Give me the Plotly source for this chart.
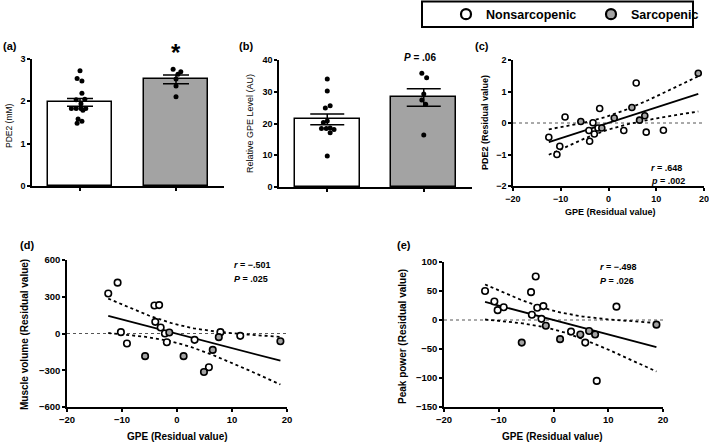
import numpy as np
import plotly.graph_objects as go

W, H = 709, 444
FONT = "Liberation Sans, Arial, sans-serif"
GRAY = "#a3a3a3"

# ---------------- data ----------------
group_pos = [0, 1]

pde2_mean = [1.975, 2.52]
pde2_sem = [0.09, 0.105]
pde2_non = [2.72, 2.54, 2.48, 2.19, 2.04, 2.05, 1.94, 1.83, 1.83, 1.83, 1.83, 1.79, 1.58, 1.53, 1.48]
pde2_non_jitter = [0.0, -0.03, 0.02, 0.02, -0.04, 0.05, 0.01, -0.09, -0.04, 0.01, 0.06, 0.03, -0.02, 0.02, -0.03]
pde2_sar = [2.76, 2.70, 2.64, 2.53, 2.36, 2.11]
pde2_sar_jitter = [-0.03, 0.05, 0.02, 0.0, 0.0, 0.0]

gpe_mean = [21.3, 28.2]
gpe_sem = [1.7, 2.75]
gpe_non = [34.0, 30.2, 25.6, 24.9, 20.8, 20.3, 18.6, 18.4, 18.4, 18.1, 17.1, 9.8]
gpe_non_jitter = [0.0, 0.0, 0.03, -0.02, 0.0, -0.04, 0.03, -0.06, -0.01, 0.07, 0.03, 0.0]
gpe_sar = [35.8, 34.4, 29.3, 27.4, 26.1, 16.4]
gpe_sar_jitter = [-0.02, 0.03, 0.0, -0.02, 0.02, 0.0]

gpe_res_non = [-12.5, -10.8, -10.2, -9.1, -4.1, -3.95, -3.25, -2.97, -2.2, -1.85, 3.2, 5.8, 7.9, 11.5]
gpe_res_sar = [-5.8, -1.4, 1.2, 4.9, 6.5, 7.6, 18.8]
pde2_res_non = [-0.45, -1.0, -0.74, 0.19, -0.24, -0.58, 0.01, -0.35, -0.16, 0.46, -0.24, 1.27, -0.29, -0.23]
pde2_res_sar = [0.05, -0.16, 0.16, 0.49, 0.09, 0.23, 1.58]
muscle_res_non = [327, 415, 11, -82, 229, 95, 232, 49, 0, -71, -52, -275, 11, -19]
muscle_res_sar = [-185, 8, -185, -314, -134, -30, -63]
power_res_non = [50, 32, 17, 22, 48, 9, 75, 21, 2, 24, -20, -39, -105, 23]
power_res_sar = [-39, -10, -33, -25, -19, -25, -8]

ticks_a = [0, 1, 2, 3]
ticks_b = [0, 10, 20, 30, 40]
ticks_gpe = [-20, -10, 0, 10, 20]
ticks_c = [-2, -1, 0, 1, 2]
ticks_d = [-600, -300, 0, 300, 600]
ticks_e = [-150, -100, -50, 0, 50, 100]

stats_c = ["<i>r</i> = .648", "<i>p</i> = .002"]
stats_d = ["<i>r</i> = \u2212.501", "<i>P</i> = .025"]
stats_e = ["<i>r</i> = \u2212.498", "<i>P</i> = .026"]
T_CRIT = 2.093  # t(0.975, df=19)


def lab(v):
    s = str(v).replace("-", "\u2212")
    return "<b>" + s + "</b>"


def fit_band(x, y, n=120):
    x = np.asarray(x, float)
    y = np.asarray(y, float)
    b1, b0 = np.polyfit(x, y, 1)
    xs = np.linspace(x.min(), x.max(), n)
    yh = b0 + b1 * xs
    res = y - (b0 + b1 * x)
    s = np.sqrt(np.sum(res ** 2) / (len(x) - 2))
    sxx = np.sum((x - x.mean()) ** 2)
    se = s * np.sqrt(1.0 / len(x) + (xs - x.mean()) ** 2 / sxx)
    return xs, yh, yh - T_CRIT * se, yh + T_CRIT * se


def px_x(p):
    return p / W


def px_y(p):
    return 1 - p / H


fig = go.Figure()

# ---------------- bar panels ----------------
bar_panels = [
    ("x", "y", pde2_mean, pde2_sem, pde2_non, pde2_non_jitter, pde2_sar, pde2_sar_jitter, 13),
    ("x2", "y2", gpe_mean, gpe_sem, gpe_non, gpe_non_jitter, gpe_sar, gpe_sar_jitter, 17),
]
for xa, ya, mean, sem, non, nj, sar, sj, cap in bar_panels:
    fig.add_trace(go.Bar(
        x=group_pos, y=mean, width=0.67, xaxis=xa, yaxis=ya,
        marker=dict(color=["white", GRAY], line=dict(color="black", width=1.5)),
        error_y=dict(type="data", array=sem, color="black", thickness=1.5, width=cap),
        showlegend=False, hoverinfo="skip"))
    fig.add_trace(go.Scatter(
        x=[group_pos[0] + j for j in nj], y=non, mode="markers", xaxis=xa, yaxis=ya,
        marker=dict(color="black", size=5), showlegend=False, cliponaxis=False))
    fig.add_trace(go.Scatter(
        x=[group_pos[1] + j for j in sj], y=sar, mode="markers", xaxis=xa, yaxis=ya,
        marker=dict(color="black", size=5), showlegend=False, cliponaxis=False))

# ---------------- scatter panels ----------------
scatter_panels = [
    ("x3", "y3", pde2_res_non, pde2_res_sar, 6),
    ("x4", "y4", muscle_res_non, muscle_res_sar, 6.5),
    ("x5", "y5", power_res_non, power_res_sar, 6.5),
]
shapes = []
for xa, ya, ynon, ysar, msize in scatter_panels:
    xall = gpe_res_non + gpe_res_sar
    yall = ynon + ysar
    xs, yh, lo, hi = fit_band(xall, yall)
    for band in (lo, hi):
        fig.add_trace(go.Scatter(x=xs, y=band, mode="lines", xaxis=xa, yaxis=ya,
                                 line=dict(color="black", width=1.8, dash="dot"),
                                 showlegend=False, hoverinfo="skip"))
    fig.add_trace(go.Scatter(x=xs, y=yh, mode="lines", xaxis=xa, yaxis=ya,
                             line=dict(color="black", width=1.8),
                             showlegend=False, hoverinfo="skip"))
    fig.add_trace(go.Scatter(x=gpe_res_non, y=ynon, mode="markers", xaxis=xa, yaxis=ya,
                             marker=dict(color="white", size=msize, line=dict(color="black", width=1.6)),
                             showlegend=False, cliponaxis=False))
    fig.add_trace(go.Scatter(x=gpe_res_sar, y=ysar, mode="markers", xaxis=xa, yaxis=ya,
                             marker=dict(color=GRAY, size=msize, line=dict(color="black", width=1.6)),
                             showlegend=False, cliponaxis=False))
    shapes.append(dict(type="line", xref=xa + " domain", yref=ya, x0=0, x1=1, y0=0, y1=0,
                       line=dict(color="#555555", width=1, dash="dot"), layer="below"))

# legend frame
shapes.append(dict(type="rect", xref="paper", yref="paper", x0=px_x(422), x1=px_x(693),
                   y0=px_y(27), y1=px_y(1.5), line=dict(color="black", width=2), fillcolor="white",
                   layer="below"))

# legend-only traces
fig.add_trace(go.Scatter(x=[None], y=[None], mode="markers", name="<b>Nonsarcopenic</b>",
                         marker=dict(color="white", size=10, line=dict(color="black", width=2.2)),
                         xaxis="x3", yaxis="y3"))
fig.add_trace(go.Scatter(x=[None], y=[None], mode="markers", name="<b>Sarcopenic</b>",
                         marker=dict(color=GRAY, size=10, line=dict(color="black", width=2.2)),
                         xaxis="x3", yaxis="y3"))


def axis_common(tickvals, size):
    return dict(showline=True, linecolor="black", linewidth=1.5, ticks="outside",
                ticklen=3, tickwidth=1.5, tickcolor="black", showgrid=False, zeroline=False,
                tickvals=tickvals, ticktext=[lab(v) for v in tickvals], ticklabeloverflow="allow",
                tickfont=dict(family=FONT, size=size, color="black"), fixedrange=True)


def cat_axis(domain, anchor):
    return dict(domain=domain, anchor=anchor, range=[-0.5, 1.5], showline=True, linecolor="black",
                linewidth=1.5, ticks="outside", ticklen=3, tickwidth=1.5, tickcolor="black",
                tickvals=group_pos, ticktext=["", ""], showgrid=False, zeroline=False, fixedrange=True)


dom = {
    "a": ([px_x(32), px_x(224)], [px_y(186), px_y(59)]),
    "b": ([px_x(279), px_x(472)], [px_y(187), px_y(60)]),
    "c": ([px_x(513), px_x(704)], [px_y(186), px_y(60)]),
    "d": ([px_x(67), px_x(287)], [px_y(407), px_y(260)]),
    "e": ([px_x(444), px_x(663)], [px_y(407), px_y(262)]),
}

layout_axes = {}
layout_axes["xaxis"] = cat_axis(dom["a"][0], "y")
layout_axes["yaxis"] = dict(domain=dom["a"][1], anchor="x", range=[0, 3], **axis_common(ticks_a, 9))
layout_axes["xaxis2"] = cat_axis(dom["b"][0], "y2")
layout_axes["yaxis2"] = dict(domain=dom["b"][1], anchor="x2", range=[0, 40], **axis_common(ticks_b, 9))
layout_axes["xaxis3"] = dict(domain=dom["c"][0], anchor="y3", range=[-20, 20], **axis_common(ticks_gpe, 9))
layout_axes["yaxis3"] = dict(domain=dom["c"][1], anchor="x3", range=[-2, 2], **axis_common(ticks_c, 9))
layout_axes["xaxis4"] = dict(domain=dom["d"][0], anchor="y4", range=[-20, 20], **axis_common(ticks_gpe, 9.5))
layout_axes["yaxis4"] = dict(domain=dom["d"][1], anchor="x4", range=[-600, 600], **axis_common(ticks_d, 9.5))
layout_axes["xaxis5"] = dict(domain=dom["e"][0], anchor="y5", range=[-20, 20], **axis_common(ticks_gpe, 9.5))
layout_axes["yaxis5"] = dict(domain=dom["e"][1], anchor="x5", range=[-150, 100], **axis_common(ticks_e, 9.5))

annotations = []


def ann(text, x, y, size, xanchor="center", yanchor="middle", angle=0):
    annotations.append(dict(text=text, x=px_x(x), y=px_y(y), xref="paper", yref="paper",
                            xanchor=xanchor, yanchor=yanchor, showarrow=False, textangle=angle,
                            font=dict(family=FONT, size=size, color="black")))


# panel labels
ann("<b>(a)</b>", 1, 46, 11, xanchor="left")
ann("<b>(b)</b>", 237, 46, 11, xanchor="left")
ann("<b>(c)</b>", 473, 46, 11, xanchor="left")
ann("<b>(d)</b>", 18, 245, 11, xanchor="left")
ann("<b>(e)</b>", 395, 245, 11, xanchor="left")

# significance marks
ann("<b>*</b>", 176, 52, 24)
ann("<b><i>P</i> = .06</b>", 420, 57, 10)

# axis titles
ann("PDE2 (mM)", 9, 126, 8.5, angle=-90)
ann("Relative GPE Level (AU)", 250, 124, 9, angle=-90)
ann("<b>PDE2 (Residual value)</b>", 485, 123, 9, angle=-90)
ann("<b>GPE (Residual value)</b>", 610, 212, 9)
ann("<b>Muscle volume (Residual value)</b>", 24, 335, 10, angle=-90)
ann("<b>GPE (Residual value)</b>", 177, 436, 10)
ann("<b>Peak power (Residual value)</b>", 402, 337, 10, angle=-90)
ann("<b>GPE (Residual value)</b>", 552, 436, 10)

# stats
ann("<b>" + stats_c[0] + "</b>", 649, 168, 9, xanchor="left")
ann("<b>" + stats_c[1] + "</b>", 649, 181, 9, xanchor="left")
ann("<b>" + stats_d[0] + "</b>", 232, 265, 9, xanchor="left")
ann("<b>" + stats_d[1] + "</b>", 232, 279, 9, xanchor="left")
ann("<b>" + stats_e[0] + "</b>", 598, 267, 9, xanchor="left")
ann("<b>" + stats_e[1] + "</b>", 598, 281, 9, xanchor="left")

fig.update_layout(
    width=W, height=H, autosize=False,
    margin=dict(l=0, r=0, t=0, b=0, pad=0, autoexpand=False),
    paper_bgcolor="white", plot_bgcolor="white",
    font=dict(family=FONT, color="black"),
    showlegend=True,
    legend=dict(orientation="h", xref="container", yref="container",
                x=446 / W, y=1 - 14.5 / H, xanchor="left", yanchor="middle",
                borderwidth=0, bgcolor="rgba(0,0,0,0)",
                font=dict(family=FONT, size=12.5, color="black"),
                entrywidth=100, itemclick=False, itemdoubleclick=False),
    shapes=shapes,
    annotations=annotations,
    bargap=0,
    **layout_axes,
)

fig.write_html("out.html", config={"displayModeBar": False},
               post_script="document.body.style.margin='0px';document.body.style.padding='0px';")
